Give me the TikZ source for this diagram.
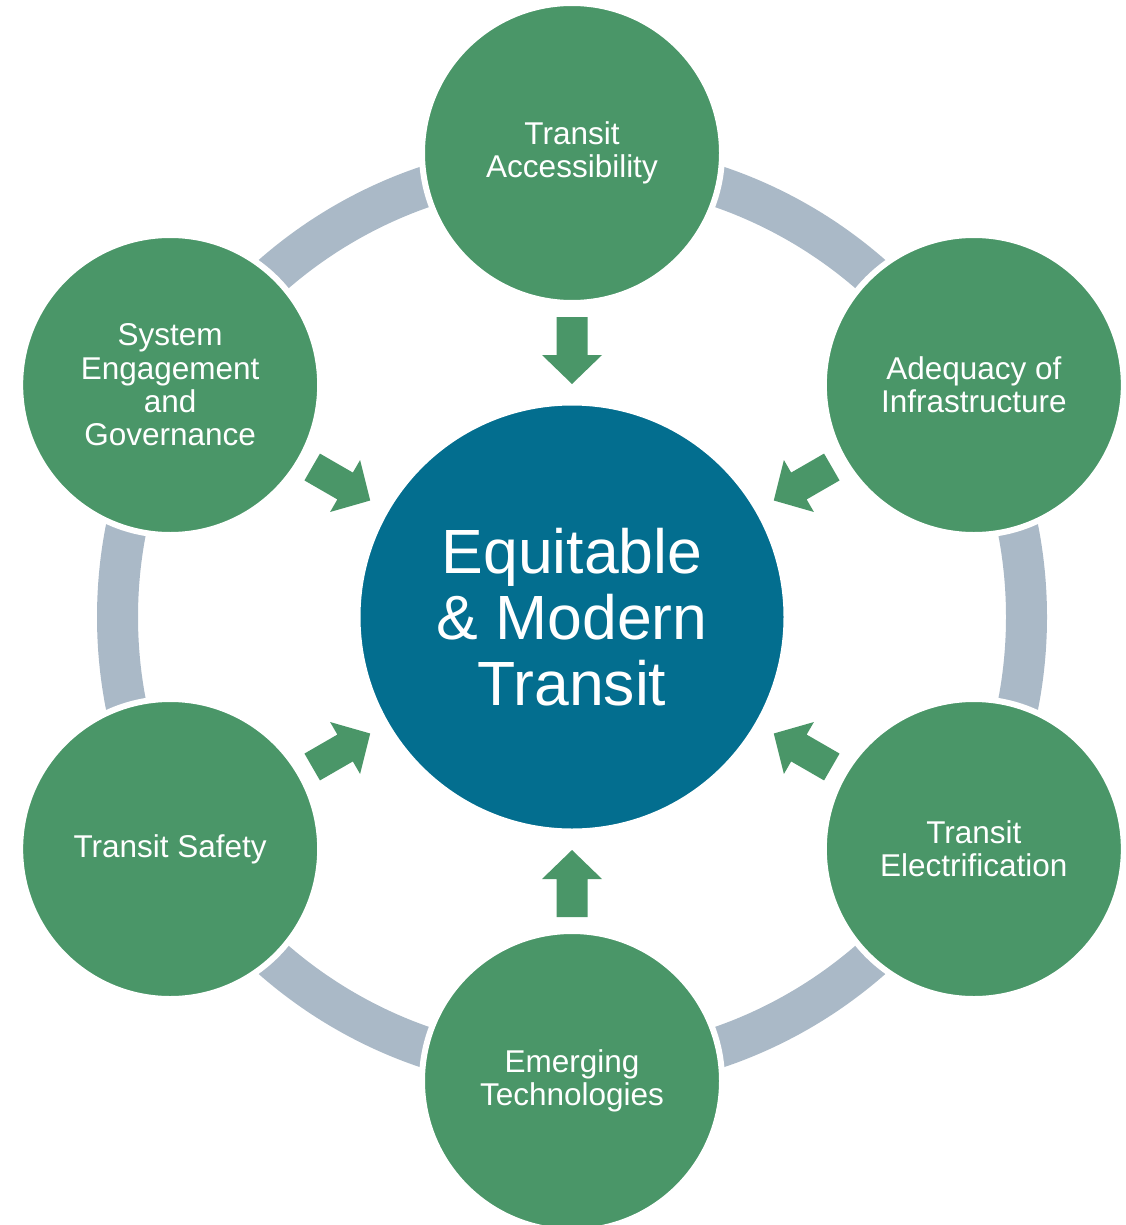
\documentclass[tikz,border=0pt]{standalone}
\usepackage{fontspec}
\setmainfont{Liberation Sans}
\usetikzlibrary{calc}
\definecolor{cgreen}{HTML}{4A9668}
\definecolor{cblue}{HTML}{036E8F}
\definecolor{cring}{HTML}{AAB9C7}
\begin{document}
\begin{tikzpicture}[x=1pt,y=1pt,
  outer/.style={circle, fill=cgreen, draw=white, line width=6pt, minimum size=300pt, inner sep=0pt, text=white, align=center, font=\fontsize{31.5}{33.3}\selectfont},
  hub/.style={circle, fill=cblue, draw=white, line width=4pt, minimum size=427pt, inner sep=0pt, text=white, align=center, font=\fontsize{62.5}{66}\selectfont},
  ringline/.style={draw=cring, line width=41pt},
  pics/inarrow/.style={code={\fill[cgreen] (0,15.5) -- (38,15.5) -- (38,30) -- (67,0) -- (38,-30) -- (38,-15.5) -- (0,-15.5) -- cycle;}}
]
\useasboundingbox (0,0) rectangle (1125,-1225);
\coordinate (o) at (572,-617);
\draw[ringline] (o) circle (454.5);
\node[hub] (c) at (o) {Equitable\\\& Modern\\Transit};
\node[outer] (acc) at ($(o)+(90:464)$) {Transit\\Accessibility};
\node[outer] (inf) at ($(o)+(30:464)$) {Adequacy of\\Infrastructure};
\node[outer] (ele) at ($(o)+(-30:464)$) {Transit\\Electrification};
\node[outer] (emt) at ($(o)+(-90:464)$) {Emerging\\Technologies};
\node[outer] (saf) at ($(o)+(210:464)$) {Transit Safety};
\node[outer] (sys) at ($(o)+(150:464)$) {System\\Engagement\\and\\Governance};
\foreach \a in {90,30,-30,-90,210,150}{
  \path (o) ++(\a:300) pic[rotate=\a+180] {inarrow};
}
\end{tikzpicture}
\end{document}
